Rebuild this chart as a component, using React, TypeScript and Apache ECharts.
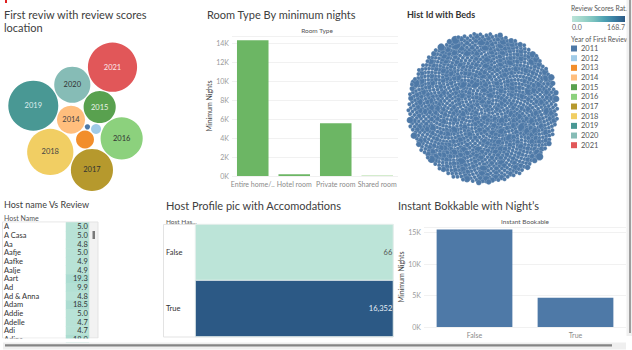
import React, { useEffect, useRef } from 'react';
import * as echarts from 'echarts';

// ---------- data ----------
const years = ['2011', '2012', '2013', '2014', '2015', '2016', '2017', '2018', '2019', '2020', '2021'];
const firstReviewCounts = [35, 125, 400, 980, 1280, 2200, 2200, 2650, 3100, 1620, 3000];

const roomTypes = ['Entire home/..', 'Hotel room', 'Private room', 'Shared room'];
const roomMinNights = [14300, 180, 5550, 70];
const roomTicks = [0, 2000, 4000, 6000, 8000, 10000, 12000, 14000];

const bedValues = [1, 2, 3, 4, 5, 6, 8];
const hostsPerBedValue = [980, 260, 90, 40, 14, 8, 4];

const hostNames = ['A', 'A Casa', 'Aa', 'Aafje', 'Aafke', 'Aalje', 'Aart', 'Ad', 'Ad & Anna', 'Adam', 'Addie', 'Adelle', 'Adi', 'Adina'];
const hostReviewScores = [5.0, 5.0, 4.8, 5.0, 4.9, 4.9, 19.3, 9.9, 4.8, 18.5, 5.0, 4.7, 4.7, 18.0];
const reviewScoreRange = [0, 168.7];

const profileCategories = ['False', 'True'];
const profileCounts = [66, 16352];

const bookableCategories = ['False', 'True'];
const bookableMinNights = [15450, 4650];
const bookableTicks = [0, 5000, 10000, 15000];

// ---------- styles ----------
const yearColors = ['#4e79a7', '#a0cbe8', '#f28e2b', '#ffbe7d', '#59a14f', '#8cd17d', '#b6992d', '#f1ce63', '#499894', '#86bcb6', '#e15759'];
const yearLabelColors = ['#fff', '#333', '#333', '#444', '#e8f2e6', '#333', '#333', '#444', '#dfeeed', '#333', '#fbe9e9'];
const blueTeal = ['#bce4d8', '#9fd6cb', '#7cc3bf', '#4fa3b3', '#3a7fa3', '#2c5985'];
const FONT = 'Lato, "Noto Sans", sans-serif';

type Node = { x: number; y: number; r: number; next: Node | null; prev: Node | null };

// spiral front-chain packing: each circle is laid tangent to the last one and its chain successor
function tangentPlace(A: Node, B: Node, c: Node) {
  const dx = B.x - A.x, dy = B.y - A.y;
  const d = Math.hypot(dx, dy);
  const da = A.r + c.r, db = B.r + c.r;
  const ux = dx / d, uy = dy / d;
  const l = (da * da - db * db + d * d) / (2 * d);
  const h = Math.sqrt(Math.max(0, da * da - l * l));
  c.x = A.x + l * ux + h * uy;
  c.y = A.y + l * uy - h * ux;
}
function overlaps(a: Node, b: Node) {
  const dr = a.r + b.r;
  return 0.999 * dr * dr > (a.x - b.x) ** 2 + (a.y - b.y) ** 2;
}
function spiralPack(radii: number[]): Node[] {
  const nodes: Node[] = radii.map((r) => ({ x: 0, y: 0, r, next: null, prev: null }));
  if (!nodes.length) return nodes;
  const first = nodes[0];
  first.next = first.prev = first;
  if (nodes.length === 1) return nodes;
  const second = nodes[1];
  second.x = first.r + second.r;
  first.next = first.prev = second;
  second.next = second.prev = first;
  let cur = second;
  for (let i = 2; i < nodes.length; i++) {
    const c = nodes[i];
    let guard = 0;
    while (guard++ < 50) {
      const nxt = cur.next!;
      tangentPlace(cur, nxt, c);
      let hit: Node | null = null;
      for (let j = nxt.next!; j !== cur; j = j.next!) {
        if (overlaps(j, c)) { hit = j; break; }
      }
      if (!hit) break;
      cur.next = hit;
      hit.prev = cur;
    }
    const nxt = cur.next!;
    cur.next = c; c.prev = cur; c.next = nxt; nxt.prev = c;
    cur = c;
  }
  return nodes;
}

function buildOption() {
  // ---- packed bubbles (year of first review) ----
  const K = 0.449;
  const pad = 0.6;
  const radii = firstReviewCounts.map((v) => K * Math.sqrt(v));
  const packed = spiralPack(radii.map((r) => r + pad));
  const rot = (14 * Math.PI) / 180;
  const pts = packed.map((p) => ({
    x: p.x * Math.cos(rot) - p.y * Math.sin(rot),
    y: p.x * Math.sin(rot) + p.y * Math.cos(rot),
  }));
  let minX = Infinity, maxX = -Infinity, minY = Infinity, maxY = -Infinity;
  pts.forEach((p, i) => {
    minX = Math.min(minX, p.x - radii[i]); maxX = Math.max(maxX, p.x + radii[i]);
    minY = Math.min(minY, p.y - radii[i]); maxY = Math.max(maxY, p.y + radii[i]);
  });
  const cx = 75.5, cy = 116.8;
  const bubbleSeries = years.map((yr, i) => ({
    type: 'scatter',
    name: yr,
    xAxisIndex: 0,
    yAxisIndex: 0,
    symbolSize: 2 * radii[i],
    itemStyle: { color: yearColors[i], opacity: 1 },
    label: {
      show: radii[i] > 10,
      formatter: yr,
      position: 'inside',
      fontSize: 7.5,
      fontFamily: FONT,
      color: yearLabelColors[i],
    },
    data: [[pts[i].x - (minX + maxX) / 2 + cx, pts[i].y - (minY + maxY) / 2 + cy, firstReviewCounts[i]]],
    z: 3,
  }));

  // ---- hosts disk (beds) ----
  const total = hostsPerBedValue.reduce((a, b) => a + b, 0);
  const acc = hostsPerBedValue.map(() => 0);
  const bedsPerHost: number[] = [];
  for (let i = 0; i < total; i++) {
    let g = 0;
    for (let k = 0; k < acc.length; k++) {
      acc[k] += hostsPerBedValue[k] / total;
      if (acc[k] > acc[g]) g = k;
    }
    acc[g] -= 1;
    bedsPerHost.push(bedValues[g]);
  }
  const diskR = 75, diskCx = 483, diskCy = 108;
  const golden = Math.PI * (3 - Math.sqrt(5));
  const diskData = bedsPerHost.map((beds, i) => {
    const rr = diskR * Math.sqrt((i + 0.5) / total);
    const th = i * golden;
    return [diskCx + rr * Math.cos(th), diskCy + rr * Math.sin(th), beds];
  });

  const heatLabel = (color: string) => ({
    show: true,
    position: 'insideRight',
    distance: 1.5,
    fontSize: 7.5,
    fontFamily: FONT,
    color,
  });

  const series: any[] = [
    ...bubbleSeries,
    {
      type: 'scatter',
      name: 'hosts',
      xAxisIndex: 0,
      yAxisIndex: 0,
      data: diskData,
      symbolSize: (v: number[]) => 4.1 * Math.pow(v[2], 0.45),
      itemStyle: { color: '#4e79a7', borderColor: 'rgba(255,255,255,0.45)', borderWidth: 0.4, opacity: 1 },
      silent: true,
      z: 3,
    },
    {
      type: 'bar',
      xAxisIndex: 1,
      yAxisIndex: 1,
      barWidth: '76%',
      data: roomMinNights.map((v, i) => ({ value: v, itemStyle: { color: i === 3 ? '#c6e6bd' : '#6cb664' } })),
    },
    {
      type: 'bar',
      xAxisIndex: 2,
      yAxisIndex: 2,
      barWidth: '75%',
      itemStyle: { color: '#4e79a7' },
      data: bookableMinNights,
    },
    {
      type: 'heatmap',
      xAxisIndex: 3,
      yAxisIndex: 3,
      data: hostReviewScores.map((v, i) => [0, i, v]),
      label: { ...heatLabel('#333'), formatter: (p: any) => p.value[2].toFixed(1) },
      itemStyle: { borderWidth: 0 },
    },
    {
      type: 'heatmap',
      xAxisIndex: 4,
      yAxisIndex: 4,
      data: profileCounts.map((v, i) => ({
        value: [0, i, v],
        label: { color: i === 0 ? '#555' : '#e6eef5' },
      })),
      label: { ...heatLabel('#555'), formatter: (p: any) => p.value[2].toLocaleString('en-US') },
      itemStyle: { borderColor: '#e8f0ee', borderWidth: 1 },
    },
  ];

  const hidden = { show: false };
  const tickLabel = { fontSize: 7, color: '#9a9a9a', fontFamily: FONT };

  return {
    animation: false,
    backgroundColor: '#fff',
    textStyle: { fontFamily: FONT },
    grid: [
      { left: 0, top: 0, width: 632, height: 350 },
      { left: 232, top: 36, width: 166, height: 140 },
      { left: 424, top: 227, width: 202, height: 100 },
      { left: 66, top: 222.5, width: 23, height: 8.67 * hostNames.length },
      { left: 195.5, top: 224.5, width: 197.5, height: 112 },
    ],
    xAxis: [
      { type: 'value', gridIndex: 0, min: 0, max: 632, ...hidden },
      {
        type: 'category', gridIndex: 1, data: roomTypes,
        axisLine: { show: false }, axisTick: { show: false },
        axisLabel: { ...tickLabel, color: '#8a8a8a', margin: 4, interval: 0 },
      },
      {
        type: 'category', gridIndex: 2, data: bookableCategories,
        axisLine: { show: false }, axisTick: { show: false },
        axisLabel: { ...tickLabel, color: '#8a8a8a', margin: 4 },
      },
      { type: 'category', gridIndex: 3, data: ['Review'], ...hidden },
      { type: 'category', gridIndex: 4, data: ['Accommodations'], ...hidden },
    ],
    yAxis: [
      { type: 'value', gridIndex: 0, min: 0, max: 350, inverse: true, ...hidden },
      {
        type: 'value', gridIndex: 1, min: 0, max: 14737, interval: 2000,
        axisLine: { show: false }, axisTick: { show: false },
        axisLabel: { ...tickLabel, margin: 3, formatter: (v: number) => (roomTicks.includes(v) ? v / 1000 + 'K' : '') },
        splitLine: { lineStyle: { color: '#f1f1f1', width: 1 } },
        name: 'Minimum Nights', nameLocation: 'middle', nameGap: 19,
        nameTextStyle: { fontSize: 7, color: '#444', fontFamily: FONT },
      },
      {
        type: 'value', gridIndex: 2, min: 0, max: 15840, interval: 5000,
        axisLine: { show: false }, axisTick: { show: false },
        axisLabel: { ...tickLabel, margin: 3, formatter: (v: number) => (bookableTicks.includes(v) ? v / 1000 + 'K' : '') },
        splitLine: { lineStyle: { color: '#f1f1f1', width: 1 } },
        name: 'Minimum Nights', nameLocation: 'middle', nameGap: 18,
        nameTextStyle: { fontSize: 7, color: '#444', fontFamily: FONT },
      },
      {
        type: 'category', gridIndex: 3, data: hostNames, inverse: true,
        axisLine: { show: false }, axisTick: { show: false },
        axisLabel: { fontSize: 7.5, color: '#333', fontFamily: FONT, align: 'left', margin: 62, interval: 0 },
      },
      {
        type: 'category', gridIndex: 4, data: profileCategories, inverse: true,
        axisLine: { show: false }, axisTick: { show: false },
        axisLabel: { fontSize: 7.5, color: '#333', fontFamily: FONT, align: 'left', margin: 29.5 },
      },
    ],
    visualMap: [
      {
        type: 'continuous', show: false, seriesIndex: years.length + 3, dimension: 2,
        min: reviewScoreRange[0], max: reviewScoreRange[1], inRange: { color: blueTeal },
      },
      {
        type: 'continuous', show: false, seriesIndex: years.length + 4, dimension: 2,
        min: profileCounts[0], max: profileCounts[1], inRange: { color: ['#bce4d8', '#2c5985'] },
      },
    ],
    legend: {
      data: years,
      orient: 'vertical',
      left: 571,
      top: 44.5,
      icon: 'rect',
      itemWidth: 6,
      itemHeight: 6,
      itemGap: 1.67,
      padding: 0,
      selectedMode: false,
      textStyle: { fontSize: 7.5, color: '#555', fontFamily: FONT, lineHeight: 7, padding: [0, 0, 0, -1] },
    },
    series,
    graphic: [
      { type: 'rect', shape: { x: 5, y: 0, width: 2, height: 3 }, style: { fill: '#e02020' } },
      // titles
      { type: 'text', x: 4, y: 14.5, style: { text: 'First reviw with review scores', fontSize: 11, fontFamily: FONT, fill: '#404040', verticalAlign: 'middle' } },
      { type: 'text', x: 4, y: 27.8, style: { text: 'location', fontSize: 11, fontFamily: FONT, fill: '#404040', verticalAlign: 'middle' } },
      { type: 'text', x: 207, y: 14, style: { text: 'Room Type By minimum nights', fontSize: 11, fontFamily: FONT, fill: '#404040', verticalAlign: 'middle' } },
      { type: 'text', x: 407, y: 14.5, style: { text: 'Hist Id with Beds', fontSize: 9, fontWeight: 'bold', fontFamily: FONT, fill: '#333', verticalAlign: 'middle' } },
      { type: 'text', x: 4, y: 204, style: { text: 'Host name Vs Review', fontSize: 9, fontFamily: FONT, fill: '#404040', verticalAlign: 'middle' } },
      { type: 'text', x: 166, y: 205.3, style: { text: 'Host Profile pic with Accomodations', fontSize: 11, fontFamily: FONT, fill: '#404040', verticalAlign: 'middle' } },
      { type: 'text', x: 398, y: 205, style: { text: 'Instant Bokkable with Night\u2019s', fontSize: 11, fontFamily: FONT, fill: '#404040', verticalAlign: 'middle' } },
      // headers
      { type: 'text', x: 317, y: 30, style: { text: 'Room Type', fontSize: 6.5, fontFamily: FONT, fill: '#555', align: 'center', verticalAlign: 'middle' } },
      { type: 'text', x: 525, y: 221, style: { text: 'Instant Bookable', fontSize: 6.5, fontFamily: FONT, fill: '#555', align: 'center', verticalAlign: 'middle' } },
      { type: 'text', x: 4, y: 217.5, style: { text: 'Host Name', fontSize: 7, fontFamily: FONT, fill: '#555', verticalAlign: 'middle' } },
      { type: 'text', x: 166, y: 221, style: { text: 'Host Has...', fontSize: 6.5, fontFamily: FONT, fill: '#555', verticalAlign: 'middle' } },
      // legend extras
      { type: 'text', x: 571, y: 7.5, style: { text: 'Review Scores Rat..', fontSize: 6.8, fontFamily: FONT, fill: '#555', verticalAlign: 'middle' } },
      {
        type: 'rect', shape: { x: 572, y: 16, width: 53, height: 6 },
        style: {
          fill: new echarts.graphic.LinearGradient(0, 0, 1, 0, blueTeal.map((c, i) => ({ offset: i / (blueTeal.length - 1), color: c }))),
        },
      },
      { type: 'text', x: 572, y: 27, style: { text: reviewScoreRange[0].toFixed(1), fontSize: 7, fontFamily: FONT, fill: '#666', verticalAlign: 'middle' } },
      { type: 'text', x: 625, y: 27, style: { text: reviewScoreRange[1].toFixed(1), fontSize: 7, fontFamily: FONT, fill: '#666', align: 'right', verticalAlign: 'middle' } },
      { type: 'text', x: 571, y: 39, style: { text: 'Year of First Review', fontSize: 6.7, fontFamily: FONT, fill: '#555', verticalAlign: 'middle' } },
      // host table panel
      { type: 'rect', shape: { x: 2.5, y: 222, width: 95.5, height: 116 }, style: { fill: '#f2f2f2', stroke: '#e3e3e3', lineWidth: 1 } },
      { type: 'rect', shape: { x: 3, y: 222.5, width: 63, height: 115 }, style: { fill: '#fff' } },
      { type: 'rect', shape: { x: 0, y: 338.5, width: 100, height: 4 }, style: { fill: '#fff' }, z: 100 },
      { type: 'rect', shape: { x: 92.5, y: 231, width: 2.5, height: 8 }, style: { fill: '#7a7a7a' }, z: 100 },
      // profile table frame
      { type: 'rect', shape: { x: 163.5, y: 224.5, width: 229.5, height: 112.5 }, style: { fill: 'none', stroke: '#e3e3e3', lineWidth: 1 } },
      // scrollbars
      { type: 'rect', shape: { x: 626.5, y: 0, width: 5.5, height: 336 }, style: { fill: '#f0f0f0' }, z: 100 },
      { type: 'rect', shape: { x: 629.2, y: 0, width: 1.6, height: 333 }, style: { fill: '#8a8a8a' }, z: 100 },
      { type: 'rect', shape: { x: 3, y: 342.5, width: 623, height: 7 }, style: { fill: '#efefef' }, z: 101 },
      { type: 'rect', shape: { x: 5, y: 344.3, width: 607, height: 2.2 }, style: { fill: '#858585' }, z: 102 },
    ],
  };
}

export default function App() {
  const ref = useRef<HTMLDivElement>(null);
  useEffect(() => {
    const chart = echarts.init(ref.current!, null, { renderer: 'svg' });
    chart.setOption(buildOption() as any);
    return () => chart.dispose();
  }, []);
  return (
    <div
      ref={ref}
      style={{ position: 'fixed', left: 0, top: 0, width: 632, height: 350, background: '#fff' }}
    />
  );
}
